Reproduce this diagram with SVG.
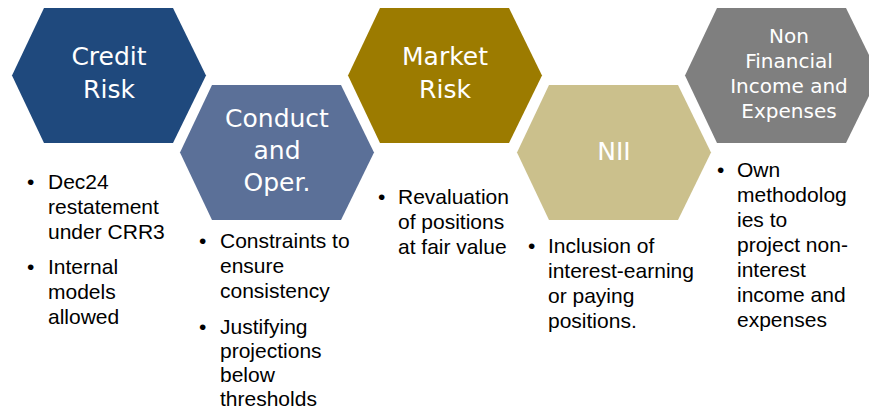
<svg xmlns="http://www.w3.org/2000/svg" width="869" height="411" viewBox="0 0 869 411">
<style>
.title{font-family:"DejaVu Sans",sans-serif;font-size:25px;fill:#ffffff;text-anchor:middle}
.title2{font-family:"DejaVu Sans",sans-serif;font-size:20px;fill:#ffffff;text-anchor:middle}
.body{font-family:"Liberation Sans",Arial,sans-serif;font-size:21px;fill:#000000}
</style>
<defs>
<polygon id="hex" points="0,67.5 32,0 161,0 194,67.5 161,135 32,135"/>
</defs>
<rect width="869" height="411" fill="#ffffff"/>
<g id="credit-risk">
<use href="#hex" x="12" y="8" fill="#1f497d"/>
<text class="title" x="109" y="65">Credit</text>
<text class="title" x="109" y="98">Risk</text>
</g>
<g id="conduct">
<use href="#hex" x="180" y="85" fill="#5b7098"/>
<text class="title" x="277" y="127">Conduct</text>
<text class="title" x="277" y="159">and</text>
<text class="title" x="277" y="191">Oper.</text>
</g>
<g id="market-risk">
<use href="#hex" x="348" y="8" fill="#9c7b00"/>
<text class="title" x="445" y="65">Market</text>
<text class="title" x="445" y="98">Risk</text>
</g>
<g id="nii">
<use href="#hex" x="517" y="85" fill="#cbc08c"/>
<text class="title" x="614" y="160">NII</text>
</g>
<g id="non-financial">
<use href="#hex" x="685" y="8" fill="#7f7f7f"/>
<text class="title2" x="789" y="43">Non</text>
<text class="title2" x="789" y="68">Financial</text>
<text class="title2" x="789" y="93">Income and</text>
<text class="title2" x="789" y="118">Expenses</text>
</g>
<g id="credit-bullets" class="body">
<text x="27" y="189">•</text>
<text x="48" y="189">Dec24</text>
<text x="48" y="214">restatement</text>
<text x="48" y="239">under CRR3</text>
<text x="27" y="274">•</text>
<text x="48" y="274">Internal</text>
<text x="48" y="299">models</text>
<text x="48" y="324">allowed</text>
</g>
<g id="conduct-bullets" class="body">
<text x="199" y="248">•</text>
<text x="220" y="248">Constraints to</text>
<text x="220" y="273">ensure</text>
<text x="220" y="298">consistency</text>
<text x="199" y="334">•</text>
<text x="220" y="334">Justifying</text>
<text x="220" y="358">projections</text>
<text x="220" y="382">below</text>
<text x="220" y="406">thresholds</text>
</g>
<g id="market-bullets" class="body">
<text x="378" y="204">•</text>
<text x="398" y="204">Revaluation</text>
<text x="398" y="229">of positions</text>
<text x="398" y="254">at fair value</text>
</g>
<g id="nii-bullets" class="body">
<text x="528" y="253">•</text>
<text x="548" y="253">Inclusion of</text>
<text x="548" y="278">interest-earning</text>
<text x="548" y="303">or paying</text>
<text x="548" y="328">positions.</text>
</g>
<g id="nonfin-bullets" class="body">
<text x="717" y="177">•</text>
<text x="737" y="177">Own</text>
<text x="737" y="202">methodolog</text>
<text x="737" y="227">ies to</text>
<text x="737" y="252">project non-</text>
<text x="737" y="277">interest</text>
<text x="737" y="302">income and</text>
<text x="737" y="327">expenses</text>
</g>
<g id="connectors"></g>
</svg>
